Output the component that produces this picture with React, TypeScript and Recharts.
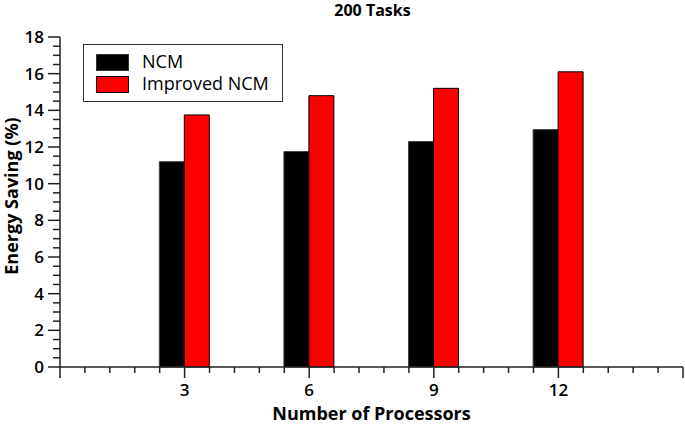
import React from "react";
import { ComposedChart, Bar, XAxis, YAxis } from "recharts";

const processors = [3, 6, 9, 12];
const ncm = [11.2, 11.75, 12.3, 12.95];
const improvedNcm = [13.75, 14.8, 15.2, 16.1];
const xTicks = Array.from({ length: 26 }, (_, i) => Math.round(i * 0.6 * 10) / 10);
const yTicks = Array.from({ length: 37 }, (_, i) => i * 0.5);
const xLabels = [3, 6, 9, 12];

const data = processors.map((p, i) => ({ x: p, ncm: ncm[i], improved: improvedNcm[i] }));

const FONT = "'Open Sans', sans-serif";

function XTick(props: any) {
  const { x, y, payload } = props;
  const v = payload.value;
  const major = Math.abs(v / 3 - Math.round(v / 3)) < 1e-6;
  return (
    <g>
      <line x1={x} x2={x} y1={y} y2={y + (major ? 11 : 6)} stroke="#222" strokeWidth={1.5} />
      {xLabels.includes(v) && (
        <text x={x} y={y + 29} textAnchor="middle" fontSize={17} fontWeight={600} fill="#000" fontFamily={FONT}>
          {v}
        </text>
      )}
    </g>
  );
}

function YTick(props: any) {
  const { x, y, payload } = props;
  const v = payload.value;
  const major = v % 2 === 0;
  return (
    <g>
      <line x1={x} x2={x - (major ? 12 : 7)} y1={y} y2={y} stroke="#222" strokeWidth={1.5} />
      {major && (
        <text x={x - 16} y={y + 6} textAnchor="end" fontSize={17} fontWeight={600} fill="#000" fontFamily={FONT}>
          {v}
        </text>
      )}
    </g>
  );
}

export default function App() {
  return (
    <div style={{ position: "absolute", left: 0, top: 0, width: 685, height: 426, background: "#fff", fontFamily: FONT }}>
      <ComposedChart
        width={685}
        height={426}
        data={data}
        margin={{ top: 37, right: 2, bottom: 29, left: 0 }}
        barGap={0}
      >
        <XAxis
          dataKey="x"
          type="number"
          domain={[0, 15]}
          ticks={xTicks}
          interval={0}
          tickLine={false}
          tickSize={0}
          tickMargin={0}
          tick={<XTick />}
          height={30}
          axisLine={{ stroke: "#222", strokeWidth: 1.5 }}
        />
        <YAxis
          type="number"
          domain={[0, 18]}
          ticks={yTicks}
          interval={0}
          tickLine={false}
          tickSize={0}
          tickMargin={0}
          tick={<YTick />}
          width={60}
          axisLine={{ stroke: "#222", strokeWidth: 1.5 }}
        />
        <Bar dataKey="ncm" fill="#000" stroke="#444" strokeWidth={1} barSize={25} isAnimationActive={false} />
        <Bar dataKey="improved" fill="#ff0000" stroke="#000" strokeWidth={1} barSize={25} isAnimationActive={false} />
      </ComposedChart>
      <div style={{ position: "absolute", left: 0, width: 685, top: 1, textAlign: "center", paddingLeft: 60, boxSizing: "border-box", fontSize: 16, fontWeight: 700, lineHeight: "18px" }}>
        200 Tasks
      </div>
      <div style={{ position: "absolute", left: 60, width: 623, top: 403, textAlign: "center", fontSize: 18, fontWeight: 700, lineHeight: "20px" }}>
        Number of Processors
      </div>
      <div style={{ position: "absolute", left: 11, top: 196, width: 0, height: 0 }}>
        <div style={{ position: "absolute", transform: "translate(-50%, -50%) rotate(-90deg)", whiteSpace: "nowrap", fontSize: 18, fontWeight: 700, left: 0, top: 0 }}>
          Energy Saving (%)
        </div>
      </div>
      <div style={{ position: "absolute", left: 83, top: 44, width: 198, height: 56, border: "1.5px solid #333", background: "#fff" }}>
        <div style={{ position: "absolute", left: 12, top: 9, width: 33, height: 17, background: "#000", border: "1px solid #333", boxSizing: "border-box" }} />
        <div style={{ position: "absolute", left: 58, top: 4, fontSize: 18, fontWeight: 500 }}>NCM</div>
        <div style={{ position: "absolute", left: 12, top: 31, width: 33, height: 17, background: "#ff0000", border: "1px solid #000", boxSizing: "border-box" }} />
        <div style={{ position: "absolute", left: 58, top: 26, fontSize: 18, fontWeight: 500 }}>Improved NCM</div>
      </div>
    </div>
  );
}
